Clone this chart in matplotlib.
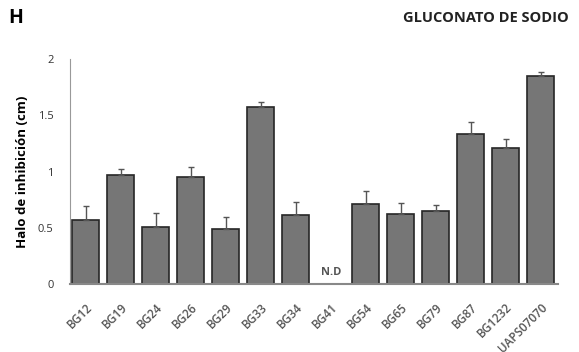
import matplotlib.pyplot as plt
import numpy as np

cepas = ['BG12', 'BG19', 'BG24', 'BG26', 'BG29', 'BG33', 'BG34', 'BG41',
         'BG54', 'BG65', 'BG79', 'BG87', 'BG1232', 'UAPS07070']
halo = [0.57, 0.97, 0.51, 0.95, 0.49, 1.57, 0.61, 0.0,
        0.71, 0.62, 0.65, 1.33, 1.21, 1.85]
error = [0.12, 0.05, 0.12, 0.09, 0.11, 0.05, 0.12, 0.0,
         0.12, 0.10, 0.05, 0.11, 0.08, 0.04]

plt.rcParams['font.family'] = ['Open Sans', 'DejaVu Sans']

fig = plt.figure(figsize=(5.79, 3.52), dpi=100)
ax = fig.add_axes([0.121, 0.193, 0.843, 0.639])

x = np.arange(len(cepas))
ax.bar(x, halo, width=0.78, color='#767676', edgecolor='#262626', linewidth=1.2,
       yerr=[np.zeros(len(error)), error], capsize=2.5,
       error_kw=dict(ecolor='#555555', elinewidth=1, capthick=1))

# strain with no detectable halo
i_nd = cepas.index('BG41')
ax.text(x[i_nd], 0.05, 'N.D', ha='center', va='bottom', fontsize=8,
        fontweight='bold', color='#555555')

ax.set_xlim(-0.45, len(cepas) - 0.5)
ax.set_ylim(0, 2)
ax.set_yticks([0, 0.5, 1, 1.5, 2])
ax.set_yticklabels(['0', '0.5', '1', '1.5', '2'])
ax.tick_params(axis='y', length=0, labelsize=8, labelcolor='#333333', pad=12)
ax.tick_params(axis='x', length=0, labelsize=8.5, labelcolor='#555555', pad=12)
ax.set_xticks(x)
ax.set_xticklabels(cepas, rotation=45, ha='right', rotation_mode='anchor',
                   fontweight='semibold')

for s in ['top', 'right']:
    ax.spines[s].set_visible(False)
ax.spines['left'].set_color('#999999')
ax.spines['left'].set_linewidth(0.8)
ax.spines['bottom'].set_color('#888888')
ax.spines['bottom'].set_linewidth(1.5)

ax.set_ylabel('Halo de inhibición (cm)', fontsize=9.5, fontweight='bold', labelpad=6)

fig.text(0.014, 0.95, 'H', fontsize=14, fontweight='bold', va='center', ha='left')
fig.text(0.982, 0.95, 'GLUCONATO DE SODIO', fontsize=10.5, fontweight='bold',
         va='center', ha='right', color='#222222')

fig.savefig('out.png', dpi=100)
